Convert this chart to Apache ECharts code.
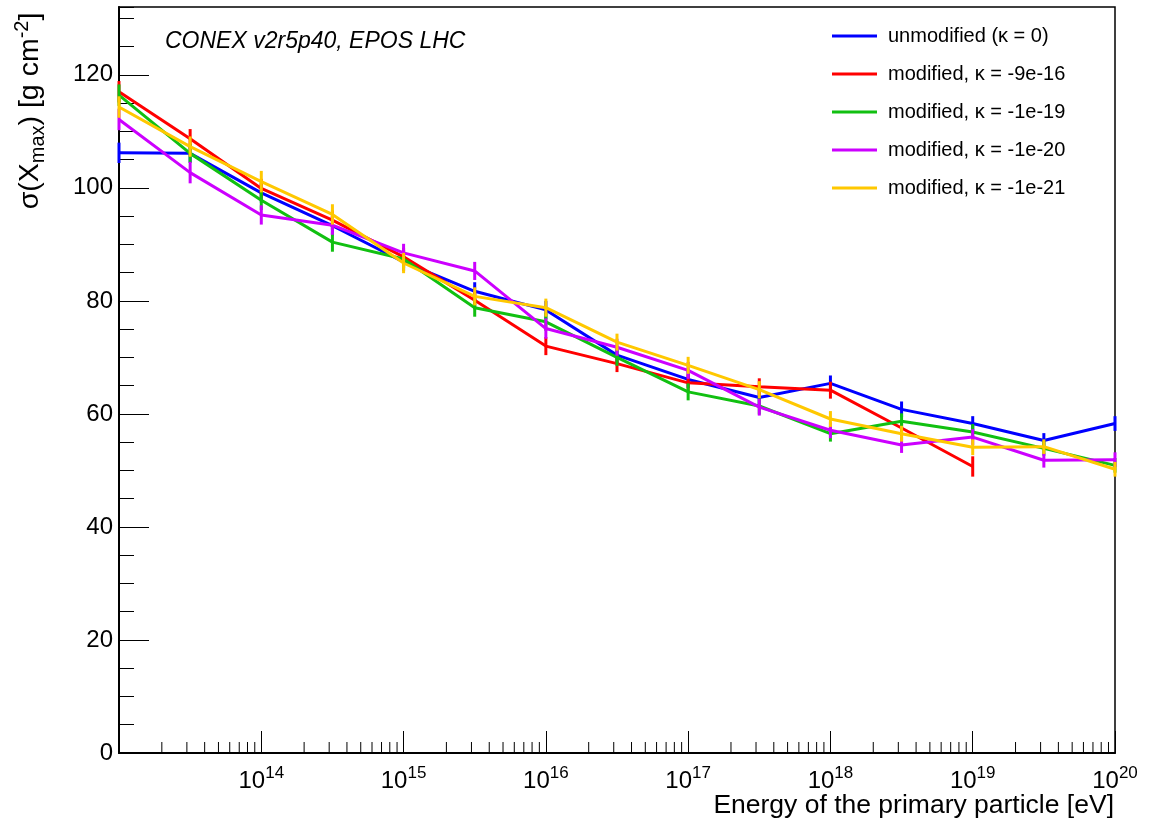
<!DOCTYPE html>
<html>
<head>
<meta charset="utf-8">
<script src="https://cdn.jsdelivr.net/npm/echarts@6/dist/echarts.min.js"></script>
<style>
  html, body { margin: 0; padding: 0; background: #ffffff; }
  #chart { width: 1151px; height: 825px; }
</style>
</head>
<body>
<div id="chart"></div>
<script>
// Primary energies [eV], half-decade steps
const energies = [1e13, 3.162e13, 1e14, 3.162e14, 1e15, 3.162e15, 1e16, 3.162e16,
                  1e17, 3.162e17, 1e18, 3.162e18, 1e19, 3.162e19, 1e20];

// sigma(Xmax) [g cm^-2] for each configuration
const unmodified = [106.2, 106.1, 99.1, 93.3, 86.9, 81.7, 78.4, 70.4, 66.1, 62.9, 65.4, 60.8, 58.3, 55.3, 58.3];
const kappa9e16  = [117.0, 108.7, 99.9, 94.3, 87.8, 80.1, 72.0, 68.9, 65.5, 64.8, 64.2, 57.5, 50.7];
const kappa1e19  = [116.4, 106.1, 97.8, 90.4, 87.4, 78.8, 76.3, 70.0, 63.9, 61.4, 56.5, 58.7, 56.8, 53.9, 50.9];
const kappa1e20  = [112.1, 102.7, 95.2, 93.4, 88.5, 85.3, 75.1, 71.8, 67.7, 61.2, 57.1, 54.5, 55.9, 51.8, 51.9];
const kappa1e21  = [114.3, 107.3, 101.1, 95.3, 86.7, 80.8, 78.8, 72.7, 68.6, 64.3, 59.1, 56.5, 54.1, 54.2, 50.2];

// Statistical uncertainties on sigma(Xmax)
const errUnmodified = [1.8, 1.6, 1.7, 1.7, 1.6, 1.6, 1.6, 1.5, 1.5, 1.5, 1.4, 1.4, 1.3, 1.3, 1.3];
const err9e16       = [1.9, 1.7, 1.7, 1.7, 1.6, 1.6, 1.6, 1.5, 1.5, 1.5, 1.5, 1.4, 1.8];
const err1e19       = [1.9, 1.7, 1.7, 1.7, 1.6, 1.6, 1.6, 1.5, 1.5, 1.5, 1.4, 1.4, 1.4, 1.3, 1.3];
const err1e20       = [1.9, 1.9, 1.7, 1.7, 1.6, 1.6, 1.8, 1.5, 1.5, 1.5, 1.4, 1.4, 1.4, 1.3, 1.3];
const err1e21       = [1.9, 1.8, 1.9, 1.8, 1.8, 1.6, 1.6, 1.5, 1.5, 1.5, 1.4, 1.4, 1.4, 1.3, 1.3];

const seriesNames = [
  'unmodified (\u03BA = 0)',
  'modified, \u03BA = -9e-16',
  'modified, \u03BA = -1e-19',
  'modified, \u03BA = -1e-20',
  'modified, \u03BA = -1e-21'
];
const seriesValues = [unmodified, kappa9e16, kappa1e19, kappa1e20, kappa1e21];
const seriesErrors = [errUnmodified, err9e16, err1e19, err1e20, err1e21];
const seriesColors = ['#0000ff', '#ff0000', '#11c011', '#cc00ff', '#ffc800'];

// Minor ticks of the logarithmic energy axis (2..9 x 10^n)
const minorTickEnergies = [];
for (let p = 13; p < 20; p++) {
  for (let m = 2; m <= 9; m++) minorTickEnergies.push(m * Math.pow(10, p));
}

const FONT = '"Liberation Sans", Arial, Helvetica, sans-serif';

const chart = echarts.init(document.getElementById('chart'), null, { renderer: 'canvas' });

const series = [];
seriesNames.forEach((name, k) => {
  const vals = seriesValues[k];
  series.push({
    name: name,
    type: 'line',
    data: vals.map((v, i) => [energies[i], v]),
    showSymbol: false,
    symbol: 'none',
    lineStyle: { width: 3, color: seriesColors[k] },
    itemStyle: { color: seriesColors[k] },
    z: 3 + k,
    animation: false
  });
});
seriesNames.forEach((name, k) => {
  const vals = seriesValues[k];
  const errs = seriesErrors[k];
  series.push({
    name: name,
    type: 'custom',
    data: vals.map((v, i) => [energies[i], v, errs[i]]),
    renderItem: function (params, api) {
      const x = api.value(0), y = api.value(1), e = api.value(2);
      const lo = api.coord([x, y - e]);
      const hi = api.coord([x, y + e]);
      return {
        type: 'line',
        shape: { x1: lo[0], y1: lo[1], x2: hi[0], y2: hi[1] },
        style: { stroke: seriesColors[k], lineWidth: 3 }
      };
    },
    itemStyle: { color: seriesColors[k] },
    clip: false,
    silent: true,
    z: 3 + k,
    animation: false
  });
});
// Minor tick marks on the energy axis
series.push({
  type: 'custom',
  data: minorTickEnergies.map(e => [e, 0]),
  renderItem: function (params, api) {
    const p = api.coord([api.value(0), 0]);
    return {
      type: 'line',
      shape: { x1: p[0], y1: p[1], x2: p[0], y2: p[1] - 11 },
      style: { stroke: '#000000', lineWidth: 1 }
    };
  },
  silent: true,
  clip: false,
  z: 10,
  animation: false
});

chart.setOption({
  animation: false,
  backgroundColor: '#ffffff',
  textStyle: { fontFamily: FONT },
  grid: {
    left: 119, right: 36, top: 7, bottom: 72,
    show: true, borderColor: '#000000', borderWidth: 1.5,
    backgroundColor: 'transparent'
  },
  legend: {
    data: seriesNames,
    orient: 'vertical',
    left: 832,
    top: 25,
    padding: 0,
    icon: 'rect',
    itemWidth: 45,
    itemHeight: 3,
    itemGap: 16,
    selectedMode: false,
    textStyle: { fontFamily: FONT, fontSize: 20, color: '#000000', lineHeight: 22, padding: [0, 0, 0, 6] }
  },
  xAxis: {
    type: 'log',
    logBase: 10,
    min: 1e13,
    max: 1e20,
    splitNumber: 7,
    axisLine: { show: true, lineStyle: { color: '#000000', width: 2 } },
    axisTick: { show: true, inside: true, length: 22, lineStyle: { color: '#000000', width: 1 } },
    splitLine: { show: false },
    axisLabel: {
      showMinLabel: false,
      margin: 12,
      color: '#000000',
      formatter: function (v) {
        const exp = Math.round(Math.log10(v));
        // the lower edge of the range is left unlabelled
        if (exp <= 13) return '';
        return '{b|10}{e|' + exp + '}';
      },
      rich: {
        b: { fontFamily: FONT, fontSize: 24, color: '#000000', lineHeight: 28, verticalAlign: 'bottom' },
        e: { fontFamily: FONT, fontSize: 17, color: '#000000', lineHeight: 28, verticalAlign: 'top' }
      }
    }
  },
  yAxis: [
    {
      type: 'value',
      min: 0,
      max: 132,
      interval: 20,
      position: 'left',
      axisLine: { show: true, lineStyle: { color: '#000000', width: 2 } },
      axisTick: { show: true, inside: true, length: 30, lineStyle: { color: '#000000', width: 1 } },
      splitLine: { show: false },
      axisLabel: { showMaxLabel: false, margin: 6, fontFamily: FONT, fontSize: 24, color: '#000000' }
    },
    {
      type: 'value',
      min: 0,
      max: 132,
      interval: 5,
      position: 'left',
      axisLine: { show: false },
      axisTick: { show: true, inside: true, length: 15, lineStyle: { color: '#000000', width: 1 } },
      splitLine: { show: false },
      axisLabel: { show: false }
    }
  ],
  graphic: [
    {
      type: 'text',
      x: 165,
      y: 42,
      style: {
        text: 'CONEX v2r5p40, EPOS LHC',
        fontFamily: FONT,
        fontSize: 23,
        fontStyle: 'italic',
        fill: '#000000',
        align: 'left',
        verticalAlign: 'middle'
      },
      z: 20
    },
    {
      type: 'text',
      x: 1114,
      y: 806,
      style: {
        text: 'Energy of the primary particle [eV]',
        fontFamily: FONT,
        fontSize: 26.5,
        fill: '#000000',
        align: 'right',
        verticalAlign: 'middle'
      },
      z: 20
    },
    {
      type: 'text',
      x: 30,
      y: 111,
      rotation: Math.PI / 2,
      style: {
        text: '{n|\u03C3(X}{s|max}{n|) [g cm}{p|-2}{n|]}',
        align: 'center',
        verticalAlign: 'middle',
        rich: {
          n: { fontFamily: FONT, fontSize: 28.5, fill: '#000000', lineHeight: 36, verticalAlign: 'middle' },
          s: { fontFamily: FONT, fontSize: 20, fill: '#000000', lineHeight: 36, verticalAlign: 'bottom' },
          p: { fontFamily: FONT, fontSize: 20, fill: '#000000', lineHeight: 36, verticalAlign: 'top' }
        }
      },
      z: 20
    }
  ],
  series: series
});
</script>
</body>
</html>
